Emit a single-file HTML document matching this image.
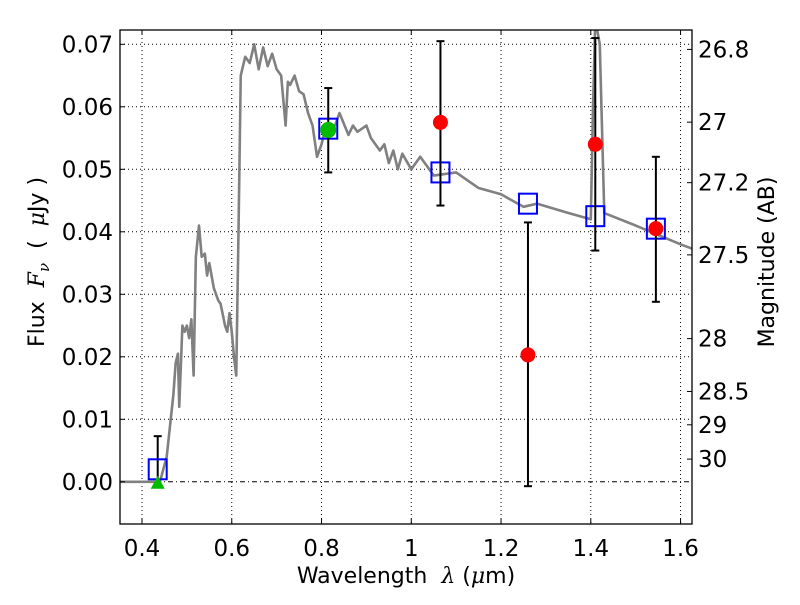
<!DOCTYPE html>
<html><head><meta charset="utf-8"><style>
body{margin:0;background:#fff;}
svg text{font-family:"DejaVu Sans","Liberation Sans",sans-serif;fill:#000;font-size:23px;}
</style></head><body>
<svg id="chart" width="800" height="600" xmlns="http://www.w3.org/2000/svg">
<rect width="800" height="600" fill="#fff"/>
<g id="grid"></g>
<g id="plot"></g>
<g id="axes"></g>
<text x="406" y="583" text-anchor="middle" style="font-size:22px" xml:space="preserve">Wavelength  <tspan font-style="italic" font-family="DejaVu Serif, serif">λ</tspan> (<tspan font-style="italic" font-family="DejaVu Serif, serif">μ</tspan>m)</text>
<text transform="translate(44,262) rotate(-90)" text-anchor="middle" style="font-size:22px" xml:space="preserve">Flux  <tspan font-style="italic" font-family="DejaVu Serif, serif">F</tspan><tspan font-style="italic" font-family="DejaVu Serif, serif" dy="5" style="font-size:15px">ν</tspan><tspan dy="-5">  (  </tspan><tspan font-style="italic" font-family="DejaVu Serif, serif">μ</tspan>Jy )</text>
<text transform="translate(774,262) rotate(-90)" text-anchor="middle" style="font-size:22px">Magnitude (AB)</text>
</svg>
<script>
const xTicks=[0.4,0.6,0.8,1.0,1.2,1.4,1.6];
const xTickLabels=["0.4","0.6","0.8","1","1.2","1.4","1.6"];
const yTicks=[0,0.01,0.02,0.03,0.04,0.05,0.06,0.07];
const yTickLabels=["0.00","0.01","0.02","0.03","0.04","0.05","0.06","0.07"];
const magTicks=[26.8,27,27.2,27.5,28,28.5,29,30];
const magTickLabels=["26.8","27","27.2","27.5","28","28.5","29","30"];
const specWave=[0.35,0.44,0.455,0.47,0.475,0.48,0.483,0.49,0.495,0.50,0.505,0.51,0.515,0.52,0.527,0.533,0.54,0.545,0.55,0.56,0.57,0.575,0.585,0.59,0.595,0.60,0.605,0.61,0.615,0.62,0.63,0.64,0.65,0.66,0.67,0.68,0.69,0.70,0.71,0.72,0.725,0.73,0.74,0.75,0.76,0.77,0.78,0.79,0.80,0.81,0.83,0.84,0.86,0.87,0.88,0.90,0.91,0.93,0.94,0.95,0.96,0.97,0.98,1.0,1.02,1.05,1.10,1.15,1.20,1.25,1.28,1.35,1.40,1.405,1.41,1.42,1.43,1.5,1.6,1.626];
const specFlux=[0,0,0.004,0.014,0.019,0.0205,0.012,0.025,0.024,0.025,0.023,0.026,0.017,0.036,0.041,0.036,0.0365,0.033,0.035,0.031,0.029,0.0285,0.025,0.024,0.027,0.024,0.020,0.017,0.04,0.065,0.068,0.067,0.070,0.066,0.0695,0.0665,0.0685,0.066,0.065,0.057,0.064,0.0635,0.065,0.0625,0.062,0.059,0.057,0.052,0.054,0.057,0.057,0.059,0.0555,0.057,0.056,0.057,0.055,0.053,0.054,0.051,0.053,0.050,0.0525,0.050,0.052,0.049,0.0495,0.047,0.046,0.044,0.0445,0.043,0.042,0.06,0.074,0.07,0.043,0.041,0.038,0.0373];
const modelWave=[0.435,0.815,1.065,1.26,1.41,1.545];
const modelFlux=[0.002,0.0565,0.0495,0.0445,0.0425,0.0405];
const obsWave=[1.065,1.26,1.41,1.545];
const obsFlux=[0.0575,0.0203,0.054,0.0405];
const obsHi=[0.0705,0.0415,0.071,0.052];
const obsLo=[0.0442,-0.0007,0.037,0.0288];
const greenWave=[0.815];const greenFlux=[0.0563];const greenHi=[0.063];const greenLo=[0.0495];
const limWave=[0.435];const limFlux=[0.0];const limHi=[0.0073];const limLo=[-0.0005];

const L=120,R=692,T=30,B=524;
const X=v=>142+(v-0.4)*448.8;
const Y=f=>481.8-f*6250;
const NS="http://www.w3.org/2000/svg";
function mk(tag,attrs,parent){const e=document.createElementNS(NS,tag);for(const k in attrs)e.setAttribute(k,attrs[k]);parent.appendChild(e);return e;}
const grid=document.getElementById('grid'),plot=document.getElementById('plot'),axes=document.getElementById('axes');
const defs=mk('defs',{},document.getElementById('chart'));
const cp=mk('clipPath',{id:'clip'},defs);mk('rect',{x:L,y:T,width:R-L,height:B-T},cp);
plot.setAttribute('clip-path','url(#clip)');
xTicks.forEach((v,i)=>{
 const gl=mk('line',{x1:X(v),x2:X(v),y1:T,y2:B,stroke:'#000','stroke-width':1,'stroke-dasharray':'1,3'},grid);
 
 
 mk('line',{x1:X(v),x2:X(v),y1:B,y2:B-5,stroke:'#000'},axes);
 mk('line',{x1:X(v),x2:X(v),y1:T,y2:T+5,stroke:'#000'},axes);
 const t=mk('text',{x:X(v),y:556,'text-anchor':'middle',style:'font-size:23px'},axes);t.textContent=xTickLabels[i];
 
 
});
yTicks.forEach((v,i)=>{
 const gl=mk('line',{x1:L,x2:R,y1:Y(v),y2:Y(v),stroke:'#000','stroke-width':1,'stroke-dasharray':v===0?'5,3,1,3':'1,3'},grid);
 
 
 mk('line',{x1:L,x2:L+5,y1:Y(v),y2:Y(v),stroke:'#000'},axes);
 const t=mk('text',{x:113,y:Y(v)+8,'text-anchor':'end',style:'font-size:23px'},axes);t.textContent=yTickLabels[i];
 
 
});
magTicks.forEach((m,i)=>{
 const y=Y(Math.pow(10,(23.9-m)/2.5));
 mk('line',{x1:R,x2:R-5,y1:y,y2:y,stroke:'#000'},axes);
 const t=mk('text',{x:698,y:y+8,style:'font-size:23px'},axes);t.textContent=magTickLabels[i];
 
 
});
const sp=mk('polyline',{points:specWave.map((w,i)=>X(w)+','+Y(specFlux[i])).join(' '),fill:'none',stroke:'#808080','stroke-width':2.6,'stroke-linejoin':'round'},plot);


function errbar(w,hi,lo,name){
 const g=mk('g',{stroke:'#000','stroke-width':2},plot);
 
 
 mk('line',{x1:X(w),x2:X(w),y1:Y(hi),y2:Y(lo)},g);
 mk('line',{x1:X(w)-4,x2:X(w)+4,y1:Y(hi),y2:Y(hi)},g);
 mk('line',{x1:X(w)-4,x2:X(w)+4,y1:Y(lo),y2:Y(lo)},g);
}
limWave.forEach((w,i)=>errbar(w,limHi[i],limLo[i],'upper-limit-errorbar'));
modelWave.forEach((w,i)=>{
 const r=mk('rect',{x:X(w)-9,y:Y(modelFlux[i])-10,width:18,height:20,fill:'none',stroke:'#0000ff','stroke-width':2},plot);
 
 
});
limWave.forEach((w,i)=>{
 const x=X(w),y=Y(limFlux[i]);
 const p=mk('polygon',{points:`${x},${y-6} ${x-7},${y+7} ${x+7},${y+7}`,fill:'#00bb00'},plot);
 
 
});
greenWave.forEach((w,i)=>{
 errbar(w,greenHi[i],greenLo[i],'green-errorbar');
 const c=mk('circle',{cx:X(w),cy:Y(greenFlux[i]),r:8,fill:'#00bb00'},plot);
 
 
});
obsWave.forEach((w,i)=>{
 errbar(w,obsHi[i],obsLo[i],'observed-errorbar');
 const c=mk('circle',{cx:X(w),cy:Y(obsFlux[i]),r:7.5,fill:'#ff0000'},plot);
 
 
});
const fr=mk('rect',{x:L,y:T,width:R-L,height:B-T,fill:'none',stroke:'#000','stroke-width':1.3},axes);


</script>
</body></html>
